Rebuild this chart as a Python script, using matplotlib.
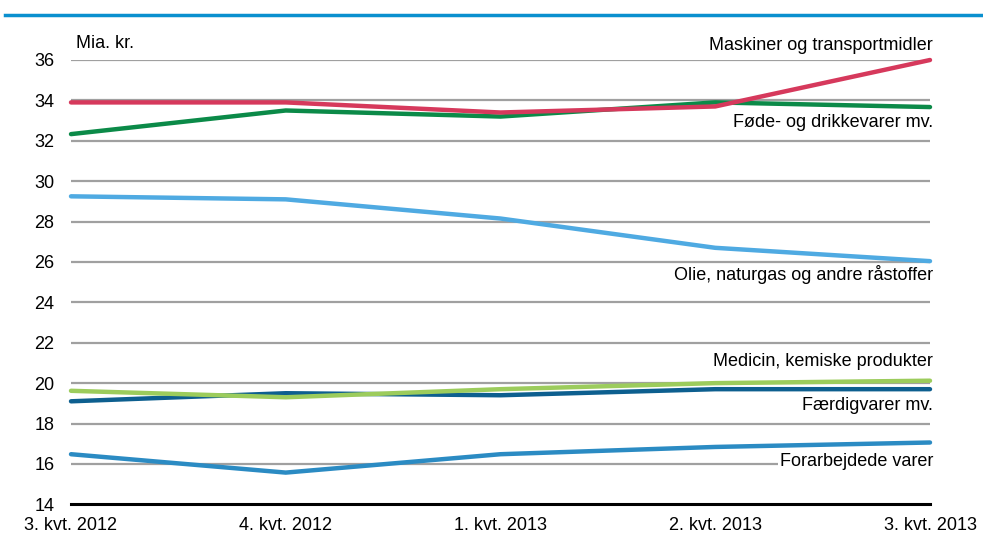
import matplotlib
matplotlib.use("Agg")
import matplotlib.pyplot as plt
from matplotlib import font_manager as fm

names = {f.name for f in fm.fontManager.ttflist}
fam = ['Liberation Sans Narrow', 'Liberation Sans', 'DejaVu Sans'] if 'Liberation Sans Narrow' in names else ['Liberation Sans', 'DejaVu Sans']
plt.rcParams['font.family'] = fam

quarters = ["3. kvt. 2012", "4. kvt. 2012", "1. kvt. 2013", "2. kvt. 2013", "3. kvt. 2013"]
maskiner = [33.9, 33.9, 33.4, 33.7, 36.0]
fode = [32.33, 33.5, 33.2, 33.9, 33.67]
olie = [29.25, 29.1, 28.15, 26.7, 26.04]
medicin = [19.62, 19.3, 19.7, 20.0, 20.12]
faerdig = [19.1, 19.5, 19.4, 19.7, 19.7]
forarb = [16.48, 15.57, 16.48, 16.84, 17.06]
yticks = [14, 16, 18, 20, 22, 24, 26, 28, 30, 32, 34, 36]

W, H = 983, 542
fig = plt.figure(figsize=(W/100, H/100), dpi=100)
ax = fig.add_axes([71/W, 1-504.3/H, (930-71)/W, (504.3-60)/H])

x = list(range(len(quarters)))
for v in yticks[1:]:
    ax.axhline(v, color='#a0a0a0', lw=1.6, zorder=1)
ax.axhline(14, color='black', lw=2.2, zorder=1, clip_on=False)

series = [
    (forarb, '#2b8bc3'),
    (olie, '#4faae2'),
    (faerdig, '#0d5f8f'),
    (medicin, '#9ccc5c'),
    (fode, '#0b8a48'),
    (maskiner, '#d6395c'),
]
for vals, c in series:
    ax.plot(x, vals, color=c, lw=3.2, solid_capstyle='round', zorder=3, clip_on=False)

ax.set_xlim(0, 4)
ax.set_ylim(14, 36)
ax.set_yticks(yticks)
ax.set_xticks(x)
ax.set_xticklabels(quarters)
for s in ax.spines.values():
    s.set_visible(False)
ax.tick_params(axis='both', length=0, labelsize=13, colors='black')
ax.tick_params(axis='y', pad=12)
ax.tick_params(axis='x', pad=9)

fs = 13
def lab(txt, ypix, **kw):
    fig.text(933/W, 1-ypix/H, txt, ha='right', va='center', fontsize=fs, **kw)

lab("Maskiner og transportmidler", 45)
lab("Føde- og drikkevarer mv.", 122)
lab("Olie, naturgas og andre råstoffer", 274)
lab("Medicin, kemiske produkter", 361)
lab("Færdigvarer mv.", 406)
lab("Forarbejdede varer", 461, bbox=dict(facecolor='white', edgecolor='none', pad=1))
fig.text(76/W, 1-43/H, "Mia. kr.", ha='left', va='center', fontsize=fs)

# top rule
fig.add_artist(plt.Line2D([5/W, 1], [1-15/H, 1-15/H], color='#0a90cf', lw=2.5))

fig.savefig("out.png", dpi=100)
